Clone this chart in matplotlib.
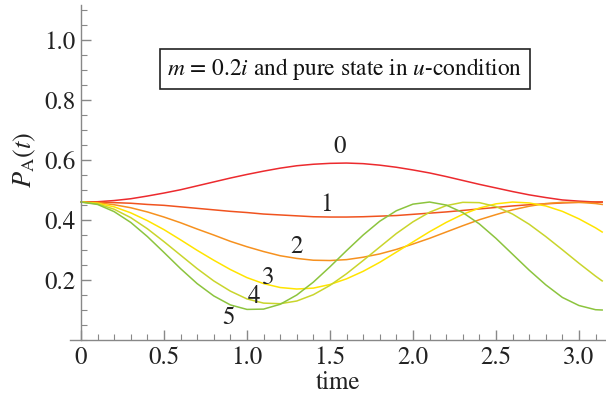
import matplotlib
matplotlib.use('Agg')
import matplotlib.pyplot as plt
from matplotlib.ticker import MultipleLocator

plt.rcParams['font.family'] = ['STIXGeneral', 'DejaVu Serif']
plt.rcParams['mathtext.fontset'] = 'stix'

# tiempo (lectura de la figura)
t = [0.0, 0.1, 0.2, 0.3, 0.4, 0.5, 0.6, 0.7, 0.8, 0.9, 1.0, 1.1, 1.2, 1.3, 1.4, 1.5, 1.6,
     1.7, 1.8, 1.9, 2.0, 2.1, 2.2, 2.3, 2.4, 2.5, 2.6, 2.7, 2.8, 2.9, 3.0, 3.1, 3.14]

p0 = [0.460, 0.461, 0.465, 0.471, 0.480, 0.490, 0.501, 0.514, 0.527, 0.540, 0.552, 0.563,
      0.573, 0.581, 0.586, 0.589, 0.590, 0.588, 0.583, 0.576, 0.567, 0.557, 0.545, 0.532,
      0.519, 0.507, 0.495, 0.484, 0.475, 0.467, 0.463, 0.460, 0.460]
p1 = [0.460, 0.460, 0.458, 0.456, 0.452, 0.449, 0.444, 0.439, 0.434, 0.429, 0.425, 0.420,
      0.417, 0.414, 0.411, 0.410, 0.410, 0.411, 0.413, 0.415, 0.419, 0.423, 0.427, 0.432,
      0.437, 0.442, 0.447, 0.451, 0.454, 0.457, 0.459, 0.460, 0.460]
p2 = [0.460, 0.458, 0.451, 0.441, 0.427, 0.410, 0.391, 0.370, 0.350, 0.329, 0.311, 0.295,
      0.281, 0.272, 0.266, 0.265, 0.268, 0.276, 0.287, 0.302, 0.320, 0.339, 0.360, 0.381,
      0.401, 0.418, 0.434, 0.446, 0.455, 0.459, 0.459, 0.455, 0.452]
p3 = [0.460, 0.456, 0.444, 0.424, 0.398, 0.368, 0.334, 0.299, 0.266, 0.235, 0.208, 0.188,
      0.175, 0.170, 0.173, 0.185, 0.204, 0.229, 0.259, 0.293, 0.327, 0.361, 0.392, 0.419,
      0.440, 0.454, 0.460, 0.457, 0.447, 0.429, 0.404, 0.374, 0.360]
p4 = [0.460, 0.454, 0.436, 0.408, 0.371, 0.328, 0.283, 0.238, 0.197, 0.163, 0.137, 0.123,
      0.121, 0.130, 0.151, 0.182, 0.221, 0.265, 0.310, 0.355, 0.394, 0.426, 0.448, 0.459,
      0.458, 0.445, 0.420, 0.386, 0.345, 0.301, 0.256, 0.213, 0.197]
p5 = [0.460, 0.452, 0.428, 0.392, 0.345, 0.292, 0.238, 0.188, 0.147, 0.117, 0.102, 0.103,
      0.119, 0.150, 0.193, 0.244, 0.298, 0.350, 0.396, 0.431, 0.453, 0.460, 0.450, 0.425,
      0.387, 0.339, 0.286, 0.233, 0.184, 0.142, 0.115, 0.101, 0.100]

series = [p0, p1, p2, p3, p4, p5]
nombres = ['0', '1', '2', '3', '4', '5']
colores = ['#ec2a2e', '#f0531f', '#f6911f', '#ffe400', '#c9d52c', '#8cc43e']
# posiciones de las etiquetas (t, P)
pos_etiq = [(1.56, 0.643), (1.48, 0.45), (1.30, 0.31), (1.13, 0.207), (1.04, 0.143), (0.886, 0.073)]

fig = plt.figure(figsize=(6.06, 3.95), dpi=100)
ax = fig.add_axes([70 / 606, 55 / 395, 535 / 606, 335 / 395])

for y, c in zip(series, colores):
    ax.plot(t, y, color=c, lw=1.1, solid_joinstyle='round')

for n, (xt, yt) in zip(nombres, pos_etiq):
    ax.text(xt, yt, n, fontsize=18, ha='center', va='center', color='#222222')

ax.set_xlim(-0.066, 3.157)
ax.set_ylim(0, 1.117)

ax.spines['top'].set_visible(False)
ax.spines['right'].set_visible(False)
ax.spines['left'].set_position(('data', 0))
for s in ['left', 'bottom']:
    ax.spines[s].set_color('#888888')
    ax.spines[s].set_linewidth(1.0)

ax.xaxis.set_major_locator(MultipleLocator(0.5))
ax.xaxis.set_minor_locator(MultipleLocator(0.1))
ax.yaxis.set_major_locator(MultipleLocator(0.2))
ax.yaxis.set_minor_locator(MultipleLocator(0.05))
ax.set_xticks([0, 0.5, 1.0, 1.5, 2.0, 2.5, 3.0])
ax.set_xticklabels(['0', '0.5', '1.0', '1.5', '2.0', '2.5', '3.0'])
ax.set_yticks([0.2, 0.4, 0.6, 0.8, 1.0])
ax.set_yticklabels(['0.2', '0.4', '0.6', '0.8', '1.0'])
ax.tick_params(which='both', direction='in', color='#888888', labelsize=18, labelcolor='#222222')
ax.tick_params(which='major', length=7, width=1.0, pad=4)
ax.tick_params(which='minor', length=4, width=0.8)

ax.set_xlabel('time', fontsize=18, color='#222222', labelpad=1)
fig.text(25 / 606, 1 - 160 / 395, r'$P_{\mathrm{A}}(t)$', rotation=90, fontsize=19,
         ha='center', va='center', color='#222222')

ax.text(0.514, 0.809, r'$m$ = 0.2$i$ and pure state in $u$-condition', transform=ax.transAxes,
        fontsize=16.8, ha='center', va='center', color='#111111',
        bbox=dict(boxstyle='square,pad=0.3', fc='white', ec='#222222', lw=1.2))

fig.savefig('out.png', dpi=100)
